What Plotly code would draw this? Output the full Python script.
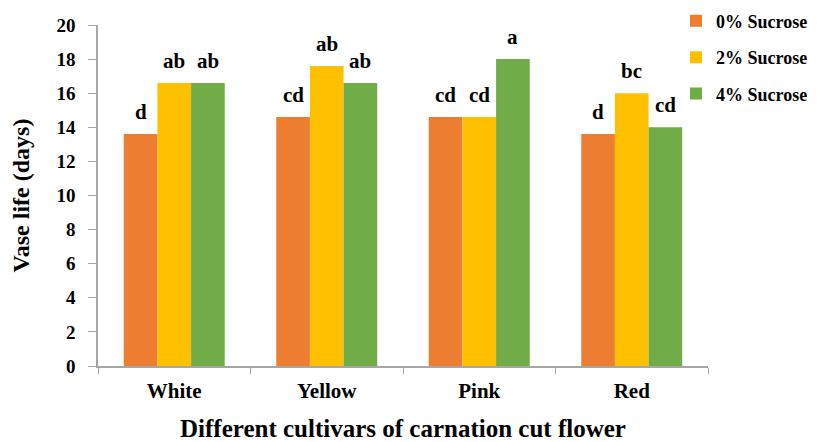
import plotly.graph_objects as go

cultivars = ["White", "Yellow", "Pink", "Red"]
series_names = ["0% Sucrose", "2% Sucrose", "4% Sucrose"]
sucrose_0 = [13.6, 14.6, 14.6, 13.6]
sucrose_2 = [16.6, 17.6, 14.6, 16.0]
sucrose_4 = [16.6, 16.6, 18.0, 14.0]
letters_0 = ["d", "cd", "cd", "d"]
letters_2 = ["ab", "ab", "cd", "bc"]
letters_4 = ["ab", "ab", "a", "cd"]
y_ticks = [0, 2, 4, 6, 8, 10, 12, 14, 16, 18, 20]

colors = ["#ED7D31", "#FFC000", "#70AD47"]
FONT = "Liberation Serif, Times New Roman, serif"

values = [sucrose_0, sucrose_2, sucrose_4]
letters = [letters_0, letters_2, letters_4]

# the page body adds an 8px offset; the figure is sized to fill the rest of the window
W, H = 812, 434
ML, MR, MT, MB = 90, 112, 16.5, 76
plot_w = W - ML - MR
plot_h = H - MT - MB

fig = go.Figure()
for i, (name, vals) in enumerate(zip(series_names, values)):
    fig.add_trace(go.Bar(
        x=cultivars, y=vals, name="<b>%s</b>" % name,
        marker=dict(color=colors[i], line=dict(width=0)),
        legendgroup=name,
    ))

# significance letters above bars
cat_w = plot_w / len(cultivars)
bargap = 0.338
bar_w = cat_w * (1 - bargap) / 3
for i in range(3):
    for c, v, t in zip(cultivars, values[i], letters[i]):
        fig.add_annotation(
            x=c, y=v, xref="x", yref="y", text="<b>%s</b>" % t,
            showarrow=False, xshift=(i - 1) * bar_w, yshift=22,
            font=dict(family=FONT, size=21, color="black"),
        )

axis_color = "#A6A6A6"
fig.update_layout(
    width=W, height=H,
    margin=dict(l=ML, r=MR, t=MT, b=MB, pad=0, autoexpand=False),
    paper_bgcolor="white", plot_bgcolor="white",
    barmode="group", bargap=bargap, bargroupgap=0,
    font=dict(family=FONT, color="black"),
    showlegend=True,
    legend=dict(
        xref="paper", yref="paper",
        x=(668 - ML) / plot_w, y=1 + (MT + 6) / plot_h,
        xanchor="left", yanchor="top",
        font=dict(family=FONT, size=18, color="black"),
        tracegroupgap=10, itemwidth=30, bgcolor="rgba(0,0,0,0)",
    ),
    xaxis=dict(
        automargin=False,
        tickmode="array", tickvals=cultivars,
        ticktext=["<b>%s</b>" % c for c in cultivars],
        showline=True, linecolor=axis_color, linewidth=1.5,
        ticks="outside", tickson="boundaries", ticklen=6, tickcolor=axis_color,
        ticklabelstandoff=5,
        tickfont=dict(family=FONT, size=21, color="black"),
        title=dict(text="<b>Different cultivars of carnation cut flower</b>",
                   font=dict(family=FONT, size=25, color="black"), standoff=32),
        showgrid=False, zeroline=False,
    ),
    yaxis=dict(
        automargin=False,
        range=[0, 20], tickmode="array", tickvals=y_ticks,
        ticktext=["<b>%d</b>" % v for v in y_ticks],
        showline=True, linecolor=axis_color, linewidth=1.5,
        ticks="outside", ticklen=8, tickcolor=axis_color,
        ticklabelstandoff=9,
        tickfont=dict(family=FONT, size=19, color="black"),
        title=dict(text="<b>Vase life (days)</b>",
                   font=dict(family=FONT, size=24, color="black"), standoff=22),
        showgrid=False, zeroline=False,
    ),
)

fig.write_html("out.html")
